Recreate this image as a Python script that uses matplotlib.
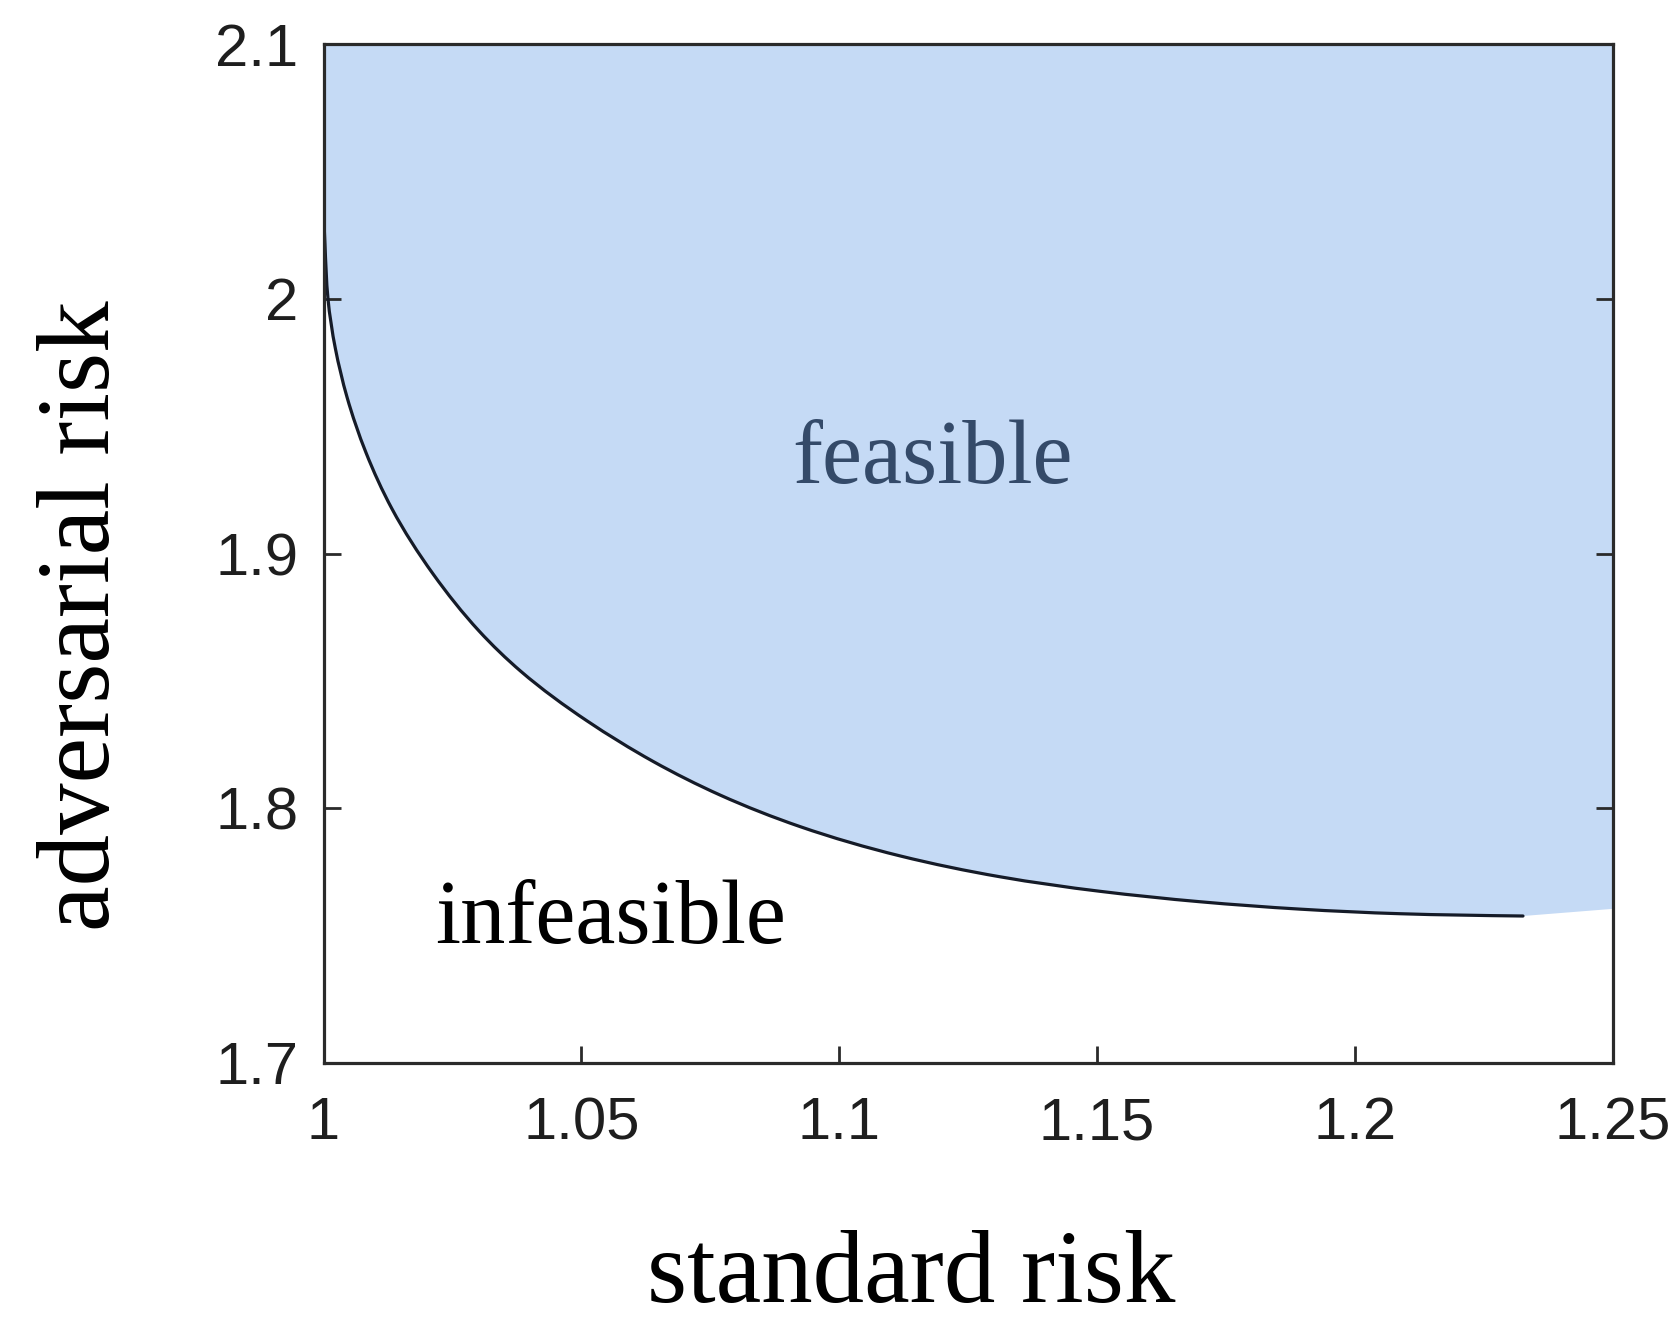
import matplotlib
matplotlib.use("Agg")
import matplotlib.pyplot as plt
from matplotlib.path import Path
from matplotlib.patches import PathPatch
import numpy as np

# Trade-off frontier between standard risk and adversarial risk
standard_risk = [1.0, 1.00029, 1.00087, 1.00231, 1.00456, 1.00824, 1.01329,
                 1.02124, 1.03016, 1.0383, 1.05111, 1.06391, 1.0769, 1.09242,
                 1.11181, 1.13121, 1.1506, 1.17, 1.18939, 1.20879, 1.23264]
adversarial_risk = [2.0337, 2.0211, 2.0, 1.9804, 1.9614, 1.9396, 1.9175,
                    1.892, 1.8696, 1.8537, 1.8343, 1.8184, 1.8052, 1.7928,
                    1.7813, 1.7731, 1.7674, 1.7633, 1.7604, 1.7586, 1.7577]

# Feasible region continues past the end of the frontier to the right border
region_edge_x = [1.25]
region_edge_y = [1.7605]

x_limits = (1.0, 1.25)
y_limits = (1.7, 2.1)
x_ticks = [1.0, 1.05, 1.1, 1.15, 1.2, 1.25]
x_tick_labels = ["1", "1.05", "1.1", "1.15", "1.2", "1.25"]
y_ticks = [1.7, 1.8, 1.9, 2.0, 2.1]
y_tick_labels = ["1.7", "1.8", "1.9", "2", "2.1"]

W, H, DPI = 1680, 1326, 100
fig = plt.figure(figsize=(W / DPI, H / DPI), dpi=DPI)
fig.patch.set_facecolor("white")

ax_left, ax_right, ax_top, ax_bottom = 323.5, 1612.5, 44, 1063
ax = fig.add_axes([ax_left / W, 1 - ax_bottom / H,
                   (ax_right - ax_left) / W, (ax_bottom - ax_top) / H])
ax.set_xlim(*x_limits)
ax.set_ylim(*y_limits)


def _natural_slopes(t, v):
    """First derivatives of a natural cubic spline v(t) at the knots."""
    n = len(t)
    h = np.diff(t)
    A = np.zeros((n, n))
    r = np.zeros(n)
    A[0, 0] = A[-1, -1] = 1.0
    for i in range(1, n - 1):
        A[i, i - 1] = h[i - 1]
        A[i, i] = 2 * (h[i - 1] + h[i])
        A[i, i + 1] = h[i]
        r[i] = 6 * ((v[i + 1] - v[i]) / h[i] - (v[i] - v[i - 1]) / h[i - 1])
    M = np.linalg.solve(A, r)
    d = np.zeros(n)
    for i in range(n - 1):
        d[i] = (v[i + 1] - v[i]) / h[i] - h[i] * (2 * M[i] + M[i + 1]) / 6
    d[-1] = (v[-1] - v[-2]) / h[-1] + h[-1] * (M[-2] + 2 * M[-1]) / 6
    return d


def smooth_path_vertices(xs, ys):
    """Cubic Bezier vertices of a smooth spline through the points."""
    sx = (ax_right - ax_left) / (x_limits[1] - x_limits[0])
    sy = (ax_bottom - ax_top) / (y_limits[1] - y_limits[0])
    px = np.asarray(xs) * sx
    py = np.asarray(ys) * sy
    t = np.concatenate([[0], np.cumsum(np.hypot(np.diff(px), np.diff(py)))])
    dx = _natural_slopes(t, px)
    dy = _natural_slopes(t, py)
    verts = [(px[0], py[0])]
    codes = [Path.MOVETO]
    for i in range(len(t) - 1):
        h = t[i + 1] - t[i]
        verts += [(px[i] + dx[i] * h / 3, py[i] + dy[i] * h / 3),
                  (px[i + 1] - dx[i + 1] * h / 3, py[i + 1] - dy[i + 1] * h / 3),
                  (px[i + 1], py[i + 1])]
        codes += [Path.CURVE4] * 3
    verts = np.array(verts)
    verts[:, 0] /= sx
    verts[:, 1] /= sy
    return verts, codes


curve_verts, curve_codes = smooth_path_vertices(standard_risk, adversarial_risk)

# Shaded feasible region above the frontier
fill_verts = list(curve_verts)
fill_codes = list(curve_codes)
for ex, ey in zip(region_edge_x, region_edge_y):
    fill_verts.append((ex, ey))
    fill_codes.append(Path.LINETO)
fill_verts += [(x_limits[1], y_limits[1]), (x_limits[0], y_limits[1]),
               (x_limits[0], adversarial_risk[0]), (0, 0)]
fill_codes += [Path.LINETO, Path.LINETO, Path.LINETO, Path.CLOSEPOLY]
ax.add_patch(PathPatch(Path(fill_verts, fill_codes), facecolor="#c5daf5",
                       edgecolor="none", lw=0, zorder=1))

# Frontier curve
ax.add_patch(PathPatch(Path(curve_verts, curve_codes), facecolor="none",
                       edgecolor="#151b28", lw=2.3, capstyle="round", zorder=3))

ax.set_xticks(x_ticks)
ax.set_xticklabels(x_tick_labels)
ax.set_yticks(y_ticks)
ax.set_yticklabels(y_tick_labels)

for lab in ax.get_xticklabels() + ax.get_yticklabels():
    lab.set_fontfamily("Liberation Sans")
    lab.set_fontsize(43)
    lab.set_color("#1e1e1e")

ax.tick_params(axis="both", direction="in", length=12, width=2.0,
               color="#2a2a2a", right=True, top=False)
ax.tick_params(axis="x", pad=24)
ax.tick_params(axis="y", pad=18)
for sp in ax.spines.values():
    sp.set_linewidth(2.3)
    sp.set_color("#2a2a2a")
    sp.set_zorder(5)

serif = "Liberation Serif"
ax.text(1.1182, 1.9277, "feasible", family=serif, fontsize=65,
        color="#344a69", ha="center", va="baseline", zorder=4)
ax.text(1.0556, 1.7471, "infeasible", family=serif, fontsize=65,
        color="black", ha="center", va="baseline", zorder=4)

fig.text(911.5 / W, 1 - 1302 / H, "standard risk", family=serif, fontsize=74,
         color="black", ha="center", va="baseline")
fig.text(109 / W, 1 - 616 / H, "adversarial risk", family=serif, fontsize=74,
         color="black", ha="center", va="baseline", rotation=90,
         rotation_mode="anchor")

fig.savefig("out.png", dpi=DPI)
